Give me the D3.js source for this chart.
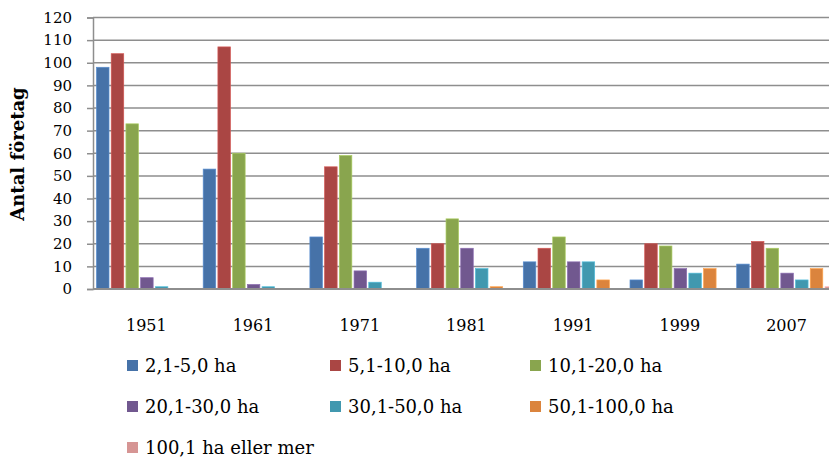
<!DOCTYPE html>
<html>
<head>
<meta charset="utf-8">
<script src="https://cdn.jsdelivr.net/npm/d3@7"></script>
<style>
  body { margin: 0; background: #fff; }
  text { font-family: "DejaVu Serif", "Liberation Serif", serif; fill: #000; }
</style>
</head>
<body>
<div id="chart"></div>
<script>
const years = ["1951", "1961", "1971", "1981", "1991", "1999", "2007"];
const sizes = ["2,1-5,0 ha", "5,1-10,0 ha", "10,1-20,0 ha", "20,1-30,0 ha",
               "30,1-50,0 ha", "50,1-100,0 ha", "100,1 ha eller mer"];
// one array per size class, values per year
const s1 = [98, 53, 23, 18, 12, 4, 11];
const s2 = [104, 107, 54, 20, 18, 20, 21];
const s3 = [73, 60, 59, 31, 23, 19, 18];
const s4 = [5, 2, 8, 18, 12, 9, 7];
const s5 = [1, 1, 3, 9, 12, 7, 4];
const s6 = [0, 0, 0, 1, 4, 9, 9];
const s7 = [0, 0, 0, 0, 0, 0, 1];
const yTicks = [0, 10, 20, 30, 40, 50, 60, 70, 80, 90, 100, 110, 120];

const series = [s1, s2, s3, s4, s5, s6, s7];
const colors = ["#4672a8", "#aa4644", "#89a54e", "#71588f", "#4198af", "#db843d", "#d69594"];

const width = 829, height = 458;
const left = 93, bandW = 106.7;

const svg = d3.select("#chart").append("svg")
    .attr("width", width)
    .attr("height", height);

const y = d3.scaleLinear().domain([0, 120]).range([289, 17.5]);
const x0 = d3.scaleBand().domain(years).range([left, left + bandW * years.length]);
const x1 = d3.scaleBand().domain(sizes).range([3.5, 3.5 + 14.4 * sizes.length]).paddingInner(0.15);
const color = d3.scaleOrdinal().domain(sizes).range(colors);

// gridlines
svg.append("g")
    .selectAll("line")
    .data(yTicks.slice(1))
    .join("line")
    .attr("x1", left)
    .attr("x2", width)
    .attr("y1", d => y(d))
    .attr("y2", d => y(d))
    .attr("stroke", "#8e8e8e")
    .attr("stroke-width", 1.5);

// y axis
const yAxis = svg.append("g")
    .attr("transform", `translate(${left},0)`)
    .call(d3.axisLeft(y).tickValues(yTicks).tickSize(6).tickPadding(15));
yAxis.select(".domain").attr("stroke", "#8e8e8e").attr("stroke-width", 1.5);
yAxis.selectAll(".tick line").attr("stroke", "#8e8e8e").attr("stroke-width", 1.5);
yAxis.selectAll(".tick text").style("font-size", "15px").attr("fill", "#000");

// bars
const rows = [];
years.forEach((yr, i) => {
    sizes.forEach((s, j) => rows.push({ year: yr, size: s, value: series[j][i] }));
});

svg.append("g")
    .selectAll("rect")
    .data(rows.filter(d => d.value > 0))
    .join("rect")
    .attr("x", d => x0(d.year) + x1(d.size))
    .attr("y", d => y(d.value))
    .attr("width", x1.bandwidth())
    .attr("height", d => y(0) - y(d.value))
    .attr("fill", d => color(d.size))
    .attr("stroke", d => d3.color(color(d.size)).brighter(0.6))
    .attr("stroke-width", 0.7);

// x baseline
svg.append("line")
    .attr("x1", left)
    .attr("x2", width)
    .attr("y1", y(0))
    .attr("y2", y(0))
    .attr("stroke", "#8e8e8e")
    .attr("stroke-width", 2);

// x labels
svg.append("g")
    .selectAll("text")
    .data(years)
    .join("text")
    .attr("x", d => x0(d) + x0.bandwidth() / 2)
    .attr("y", 331)
    .attr("text-anchor", "middle")
    .style("font-size", "16px")
    .text(d => d);

// y title
svg.append("text")
    .attr("transform", "translate(24,154) rotate(-90)")
    .attr("text-anchor", "middle")
    .style("font-size", "18px")
    .style("font-weight", "bold")
    .text("Antal företag");

// legend
const legend = svg.append("g");
const colX = [127, 330, 530];
const rowY = [366, 407, 448];
sizes.forEach((s, i) => {
    const g = legend.append("g")
        .attr("transform", `translate(${colX[i % 3]},${rowY[Math.floor(i / 3)]})`);
    g.append("rect")
        .attr("x", 0)
        .attr("y", -6)
        .attr("width", 11)
        .attr("height", 11)
        .attr("fill", color(s));
    g.append("text")
        .attr("x", 18)
        .attr("y", 6)
        .style("font-size", "18px")
        .text(s);
});
</script>
</body>
</html>
